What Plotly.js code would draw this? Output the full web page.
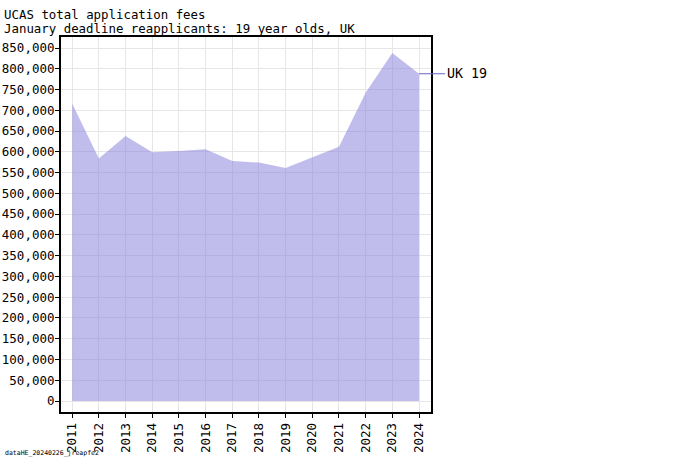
<!DOCTYPE html>
<html>
<head>
<meta charset="utf-8">
<script src="https://cdn.plot.ly/plotly-3.0.1.min.js"></script>
<style>
  body { margin: 0; background: #fff; }
  #chart { width: 680px; height: 469px; }
</style>
</head>
<body>
<div id="chart"></div>
<script>
// values
var years = [2011, 2012, 2013, 2014, 2015, 2016, 2017, 2018, 2019, 2020, 2021, 2022, 2023, 2024];
var fees_uk19 = [716000, 584000, 638000, 599000, 602000, 606000, 578000, 574000, 561000, 587000, 612000, 742000, 838000, 788000];
var series_label = 'UK 19';
var chart_title = 'UCAS total application fees';
var chart_subtitle = 'January deadline reapplicants: 19 year olds, UK';
var source_note = 'dataHE_20240226_jreapfe2';

var mono = '"DejaVu Sans Mono", "Liberation Mono", monospace';

var area = {
  x: years,
  y: fees_uk19,
  type: 'scatter',
  mode: 'lines',
  fill: 'tozeroy',
  fillcolor: 'rgba(130, 122, 216, 0.5)',
  line: {width: 0, color: 'rgba(0,0,0,0)'},
  hoverinfo: 'skip',
  showlegend: false
};

var layout = {
  width: 680,
  height: 469,
  margin: {l: 61, r: 249, t: 37, b: 57},
  paper_bgcolor: '#fff',
  plot_bgcolor: '#fff',
  font: {family: mono, size: 12.5, color: '#000'},
  showlegend: false,
  title: {
    text: chart_title,
    x: 0.006,
    xanchor: 'left',
    xref: 'container',
    y: 0.977,
    yanchor: 'top',
    yref: 'container',
    font: {family: mono, size: 12.4, color: '#000'}
  },
  xaxis: {
    range: [2010.58, 2024.45],
    tick0: 2011,
    dtick: 1,
    tickangle: -90,
    ticks: 'outside',
    ticklen: 4,
    tickcolor: '#000',
    showgrid: true,
    gridcolor: '#e6e6e6',
    gridwidth: 1,
    zeroline: false,
    showline: true,
    linecolor: '#000',
    linewidth: 2,
    mirror: true,
    tickfont: {family: mono, size: 12.5, color: '#000'}
  },
  yaxis: {
    range: [-26500, 876500],
    tick0: 0,
    dtick: 50000,
    tickformat: ',d',
    ticks: 'outside',
    ticklen: 4,
    tickcolor: '#000',
    showgrid: true,
    gridcolor: '#e6e6e6',
    gridwidth: 1,
    zeroline: false,
    showline: true,
    linecolor: '#000',
    linewidth: 2,
    mirror: true,
    ticklabelstandoff: -2,
    tickfont: {family: mono, size: 12.5, color: '#000'}
  },
  annotations: [
    {
      x: -0.16,
      y: 0.996,
      xref: 'paper',
      yref: 'paper',
      text: chart_subtitle,
      showarrow: false,
      xanchor: 'left',
      yanchor: 'bottom',
      font: {family: mono, size: 12.4, color: '#000'}
    },
    {
      x: years[years.length - 1],
      y: fees_uk19[fees_uk19.length - 1],
      xref: 'x',
      yref: 'y',
      text: series_label,
      showarrow: true,
      arrowhead: 0,
      arrowwidth: 1,
      arrowcolor: '#6b66c4',
      ax: 26,
      ay: 0,
      xanchor: 'left',
      font: {family: mono, size: 13.3, color: '#000'}
    },
    {
      x: -0.157,
      y: -0.11,
      xref: 'paper',
      yref: 'paper',
      text: source_note,
      showarrow: false,
      xanchor: 'left',
      yanchor: 'middle',
      font: {family: mono, size: 6.5, color: '#000'}
    }
  ]
};

Plotly.newPlot('chart', [area], layout, {displayModeBar: false, staticPlot: true});
</script>
</body>
</html>
